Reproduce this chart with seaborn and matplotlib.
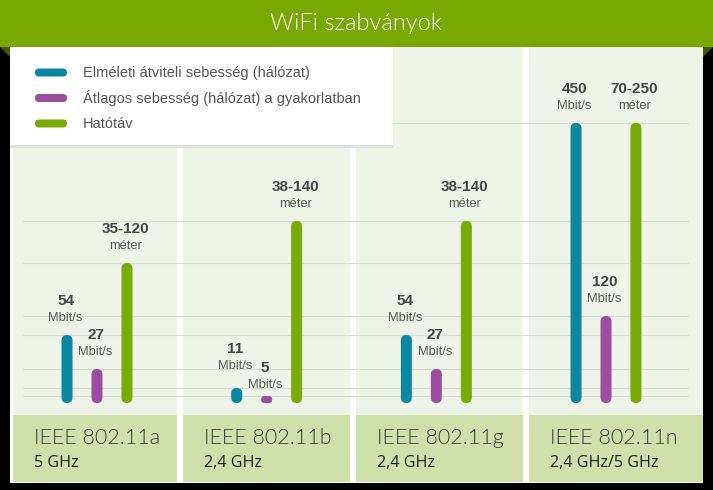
import matplotlib
matplotlib.use("Agg")
import matplotlib.pyplot as plt
from matplotlib.patches import Rectangle, FancyBboxPatch, Polygon
from matplotlib import font_manager as fm
import seaborn as sns
import pandas as pd

# ---------------- data ----------------
title = "WiFi szabványok"
standards = ["IEEE 802.11a", "IEEE 802.11b", "IEEE 802.11g", "IEEE 802.11n"]
bands = ["5 GHz", "2,4 GHz", "2,4 GHz", "2,4 GHz/5 GHz"]
series = ["Elméleti átviteli sebesség (hálózat)",
          "Átlagos sebesség (hálózat) a gyakorlatban",
          "Hatótáv"]
# visual bar heights
theoretical_h = [68, 15, 68, 280]
practical_h = [34, 7, 34, 87]
range_h = [140, 182, 182, 280]
theoretical_lbl = ["54", "11", "54", "450"]
practical_lbl = ["27", "5", "27", "120"]
range_lbl = ["35-120", "38-140", "38-140", "70-250"]
units = ["Mbit/s", "Mbit/s", "méter"]
colors = ["#0b87a1", "#9c4ca1", "#78ab06"]

# ---------------- style ----------------
sns.set_theme(style="white")
plt.rcParams["font.family"] = ["Liberation Sans", "DejaVu Sans"]


def find_font(families, weights):
    for fam in families:
        for f in fm.fontManager.ttflist:
            w = f.weight
            if isinstance(w, str):
                w = fm.weight_dict.get(w, 400)
            name = f.fname.lower()
            if (f.name == fam and w in weights and f.style == "normal"
                    and f.stretch == "normal" and "condensed" not in name
                    and "narrow" not in name and "semi" not in name):
                return f.fname
    return None


light_file = find_font(["Lato", "Roboto", "Open Sans", "Noto Sans", "Inter"], (300,))
if light_file is None:
    light_file = find_font(["Lato", "Roboto", "Open Sans", "Noto Sans", "Inter"], (200,))
reg_file = find_font(["Open Sans", "Noto Sans", "Lato"], (400,))


def fp(file, size, fallback_weight="normal"):
    if file:
        return fm.FontProperties(fname=file, size=size)
    return fm.FontProperties(family="DejaVu Sans", size=size, weight=fallback_weight)


W, H = 713, 490
fig = plt.figure(figsize=(W / 100, H / 100), dpi=100)
fig.patch.set_facecolor("black")

# background canvas in pixel coordinates
bg = fig.add_axes([0, 0, 1, 1], zorder=0)
bg.set_xlim(0, W)
bg.set_ylim(H, 0)
bg.axis("off")

bg.add_patch(Rectangle((0, 0), W, 47, color="#77a902", lw=0))
bg.add_patch(Polygon([(0, 47), (10, 47), (10, 57)], closed=True, color="#3d5a04", lw=0))
bg.add_patch(Polygon([(703, 47), (713, 47), (703, 57)], closed=True, color="#3d5a04", lw=0))
bg.text(W / 2, 23, title, color="white", ha="center", va="center",
        fontproperties=fp(light_file, 17, "light"))

bg.add_patch(Rectangle((10, 47), 693, 436, color="white", lw=0))
panel_x = [(13, 177), (183, 350), (356, 523), (529, 703)]
for (x0, x1), std, band in zip(panel_x, standards, bands):
    bg.add_patch(Rectangle((x0, 47), x1 - x0, 368, color="#eef4e7", lw=0))
    bg.add_patch(Rectangle((x0, 415), x1 - x0, 67, color="#cfe0aa", lw=0))
    bg.text(x0 + 21, 438, std, color="#3a3a3a", ha="left", va="center",
            fontproperties=fp(light_file, 15.5, "light"))
    bg.text(x0 + 21, 463, band, color="#222222", ha="left", va="center",
            fontproperties=fp(reg_file, 11.6))

# data axes: categories at panel centres, y in pixel-height units above baseline
left_px, right_px = 12.15, 690.85
base_px = 403
ax = fig.add_axes([left_px / W, (H - base_px) / H, (right_px - left_px) / W, base_px / H], zorder=1)
ax.patch.set_alpha(0)

rows = []
for name, hs in zip(series, [theoretical_h, practical_h, range_h]):
    for std, h in zip(standards, hs):
        rows.append({"standard": std, "series": name, "height": h})
df = pd.DataFrame(rows)

sns.barplot(data=df, x="standard", y="height", hue="series", order=standards,
            hue_order=series, palette=colors, width=0.53, gap=0.633,
            errorbar=None, legend=False, saturation=1, ax=ax)
ax.set_xlim(-0.5, 3.5)
ax.set_ylim(0, base_px)
ax.axis("off")

# rounded bars
px_x = ax.transData.transform((1, 0))[0] - ax.transData.transform((0, 0))[0]
px_y = ax.transData.transform((0, 1))[1] - ax.transData.transform((0, 0))[1]
aspect = px_x / px_y
bars = []
for p in list(ax.patches):
    x, w, h, fc = p.get_x(), p.get_width(), p.get_height(), p.get_facecolor()
    p.remove()
    rs = min(w / 2, h / aspect / 2)
    fb = FancyBboxPatch((x, 0), w, h, boxstyle=f"round,pad=0,rounding_size={rs}",
                        mutation_aspect=aspect, fc=fc, ec="none", zorder=3)
    ax.add_patch(fb)
    bars.append((x + w / 2, h))
bars.sort(key=lambda b: b[0])

# gridlines at every bar top
g0 = (23 - left_px) / (right_px - left_px)
g1 = (688 - left_px) / (right_px - left_px)
for y in sorted(set(theoretical_h + practical_h + range_h)):
    ax.axhline(y, g0, g1, color="#d6dccf", lw=0.8, zorder=1)

# value labels
labels = [theoretical_lbl, practical_lbl, range_lbl]
nudge = {(1, 0): 5, (1, 1): -6}
shift = -1.5 / px_x
for k, (xc, h) in enumerate(bars):
    i, j = divmod(k, 3)
    d = nudge.get((i, j), 0)
    ax.text(xc + shift, h + 34 + d, labels[j][i], ha="center", va="center", fontsize=11,
            fontweight="bold", color="#464646", clip_on=False, zorder=4)
    ax.text(xc + shift, h + 17 + d, units[j], ha="center", va="center", fontsize=9.3,
            color="#595959", clip_on=False, zorder=4)

# legend box on top
top = fig.add_axes([0, 0, 1, 1], zorder=2)
top.set_xlim(0, W)
top.set_ylim(H, 0)
top.axis("off")
top.patch.set_alpha(0)
top.add_patch(Rectangle((10, 145), 383, 3, color="#e0e2dc", lw=0))
top.add_patch(Rectangle((10, 47), 383, 98, color="white", lw=0))
for yy, name, c in zip([72.5, 98, 123.5], series, colors):
    top.add_patch(FancyBboxPatch((35, yy - 4), 32, 8,
                                 boxstyle="round,pad=0,rounding_size=4",
                                 fc=c, ec="none"))
    top.text(83, yy, name, ha="left", va="center", fontsize=10.5, color="#555555")

fig.savefig("out.png", dpi=100, facecolor=fig.get_facecolor())
